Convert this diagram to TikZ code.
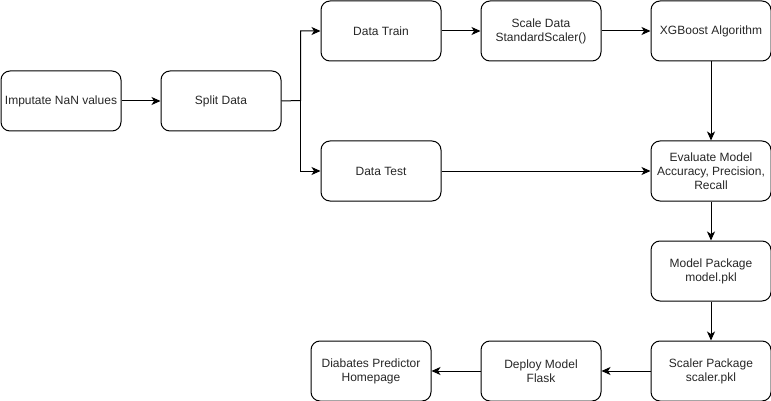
\documentclass[tikz,border=0pt]{standalone}
\usepackage{fontspec}
\setmainfont{Liberation Sans}
\usetikzlibrary{arrows.meta}
\begin{document}
\begin{tikzpicture}[x=1pt,y=-1pt,
  box/.style={draw=black,line width=1pt,rounded corners=9pt,minimum width=120pt,minimum height=60pt,
    inner sep=0pt,align=center,text=black!85,font=\fontsize{12}{14}\selectfont,anchor=north west},
  conn/.style={draw=black,line width=1pt,-{Stealth[length=9pt,width=8pt,inset=2.5pt]}}]
\useasboundingbox (0,0) rectangle (771,401);
\node[box] (imp) at (0.5,70.5) {Imputate NaN values};
\node[box] (split) at (160.5,70.5) {Split Data};
\node[box] (train) at (320.5,0.5) {Data Train};
\node[box] (scale) at (480.5,0.5) {Scale Data\\StandardScaler()};
\node[box] (xgb) at (650.5,0.5) {XGBoost Algorithm};
\node[box] (test) at (320.5,140.5) {Data Test};
\node[box] (eval) at (650.5,140.5) {Evaluate Model\\Accuracy, Precision,\\Recall};
\node[box] (model) at (650.5,240.5) {Model Package\\model.pkl};
\node[box] (scaler) at (650.5,340.5) {Scaler Package\\scaler.pkl};
\node[box] (deploy) at (480.5,340.5) {Deploy Model\\Flask};
\node[box] (diab) at (310.5,340.5) {Diabates Predictor\\Homepage};
\coordinate (br) at (300.5,100.5);
\draw[conn] (imp) -- (split);
\draw[conn] (split.east) -- (br) |- (train.west);
\draw[conn] (br) |- (test.west);
\draw[conn] (train) -- (scale);
\draw[conn] (scale) -- (xgb);
\draw[conn] (xgb) -- (eval);
\draw[conn] (test) -- (eval);
\draw[conn] (eval) -- (model);
\draw[conn] (model) -- (scaler);
\draw[conn] (scaler) -- (deploy);
\draw[conn] (deploy) -- (diab);
\end{tikzpicture}
\end{document}
